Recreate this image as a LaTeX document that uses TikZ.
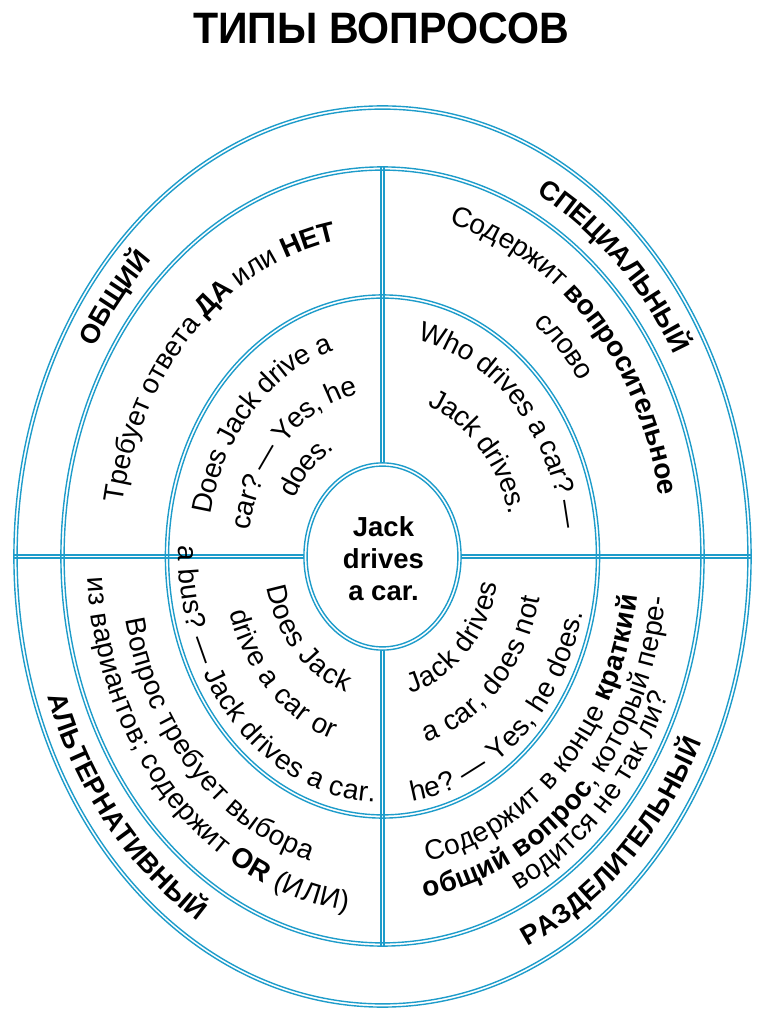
\documentclass[tikz,border=0pt]{standalone}
\usepackage{graphicx}
\usepackage{fontspec}
\setmainfont{Liberation Sans}
\usetikzlibrary{decorations.text}
\definecolor{ringblue}{RGB}{30,156,202}
\newcommand\rt{\fontsize{28}{32}\selectfont\mdseries}
\newcommand\bt{\fontsize{28}{32}\selectfont\bfseries}
\newcommand\lb{\fontsize{27}{32}\selectfont\bfseries}
% #1 raise, #2 R (y radius), #3 start angle, #4 end angle, #5 text
\newcommand\arctext[5][-7.5pt]{%
  \path[decorate,decoration={text along path,text align=center,raise=#1,text={#5}}]
    (#3:{0.825*#2pt} and {#2pt}) arc[start angle=#3,end angle=#4,x radius={0.825*#2pt},y radius={#2pt}];}
\begin{document}
\begin{tikzpicture}[x=1pt,y=1pt,
  ringline/.style={draw=ringblue,line width=1.4pt}]
\useasboundingbox (-382.5,-467.5) rectangle (384.5,556.5);
% title
\node (title) at (-1.5,528) {\fontsize{44}{50}\selectfont\bfseries\scalebox{0.935}[1]{ТИПЫ ВОПРОСОВ}};
% double ellipses
\foreach \rx/\ry in {367/449,320/388,215.5/260,77/92}{
  \draw[ringline] (0,0) ellipse [x radius={\rx*1pt+1.6pt}, y radius={\ry*1pt+1.6pt}];
  \draw[ringline] (0,0) ellipse [x radius={\rx*1pt-1.6pt}, y radius={\ry*1pt-1.6pt}];
}
% dividing lines
\coordinate (hlA) at (-368.6,0);
\coordinate (hlB) at (-78.6,0);
\coordinate (hrA) at (78.6,0);
\coordinate (hrB) at (368.6,0);
\coordinate (vtA) at (0,93.6);
\coordinate (vtB) at (0,389.6);
\coordinate (vbA) at (0,-93.6);
\coordinate (vbB) at (0,-389.6);
\foreach \s in {-1.6,1.6}{
  \draw[ringline] ([yshift=\s pt]hlA) -- ([yshift=\s pt]hlB);
  \draw[ringline] ([yshift=\s pt]hrA) -- ([yshift=\s pt]hrB);
  \draw[ringline] ([xshift=\s pt]vtA) -- ([xshift=\s pt]vtB);
  \draw[ringline] ([xshift=\s pt]vbA) -- ([xshift=\s pt]vbB);
}
% centre
\node (core) at (1,-2) [align=center,font=\fontsize{27.5}{32}\selectfont\bfseries] {Jack\\drives\\a car.};
% top-left
\arctext[-9.5pt]{418}{160}{122}{|\lb|ОБЩИЙ}
\arctext{328}{178}{91}{|\rt|Требует ответа |\bt|ДА|\rt| или |\bt|НЕТ}
\arctext{222}{175}{99}{|\rt|Does Jack drive a}
\arctext{172}{174}{97}{|\rt|car? — Yes, he}
\arctext{130}{160}{110}{|\rt|does.}
% top-right
\arctext[-9.5pt]{418}{71}{22}{|\lb|СПЕЦИАЛЬНЫЙ}
\arctext{350}{86}{2}{|\rt|Содержит |\bt|вопросительное}
\arctext{305}{60}{28}{|\rt|слово}
\arctext{228}{87}{0}{|\rt|Who drives a car? —}
\arctext{168}{79}{7}{|\rt|Jack drives.}
% bottom-left
\arctext[-9.5pt]{418}{192}{247}{|\lb|АЛЬТЕРНАТИВНЫЙ}
\arctext{309}{184}{263}{|\rt|Вопрос требует выбора}
\arctext{349}{177}{271}{|\rt|из вариантов; содержит |\bt|OR|\rt| (ИЛИ)}
\arctext{135}{187}{259}{|\rt|Does Jack}
\arctext{185}{190}{260}{|\rt|drive a car or}
\arctext{238}{175}{271}{|\rt|a bus? — Jack drives a car.}
% bottom-right
\arctext[-9.5pt]{418}{-75}{-18}{|\lb|РАЗДЕЛИТЕЛЬНЫЙ}
\arctext{302}{-89}{0}{|\rt|Содержит в конце |\bt|краткий}
\arctext{337}{-91}{1}{|\bt|общий вопрос|\rt|, который пере-}
\arctext{365}{-72}{-15}{|\rt|водится не так ли?}
\arctext{133}{-83}{-6}{|\rt|Jack drives}
\arctext{186}{-82}{-6}{|\rt|a car, does not}
\arctext{240}{-87}{-9}{|\rt|he? — Yes, he does.}
\end{tikzpicture}
\end{document}
